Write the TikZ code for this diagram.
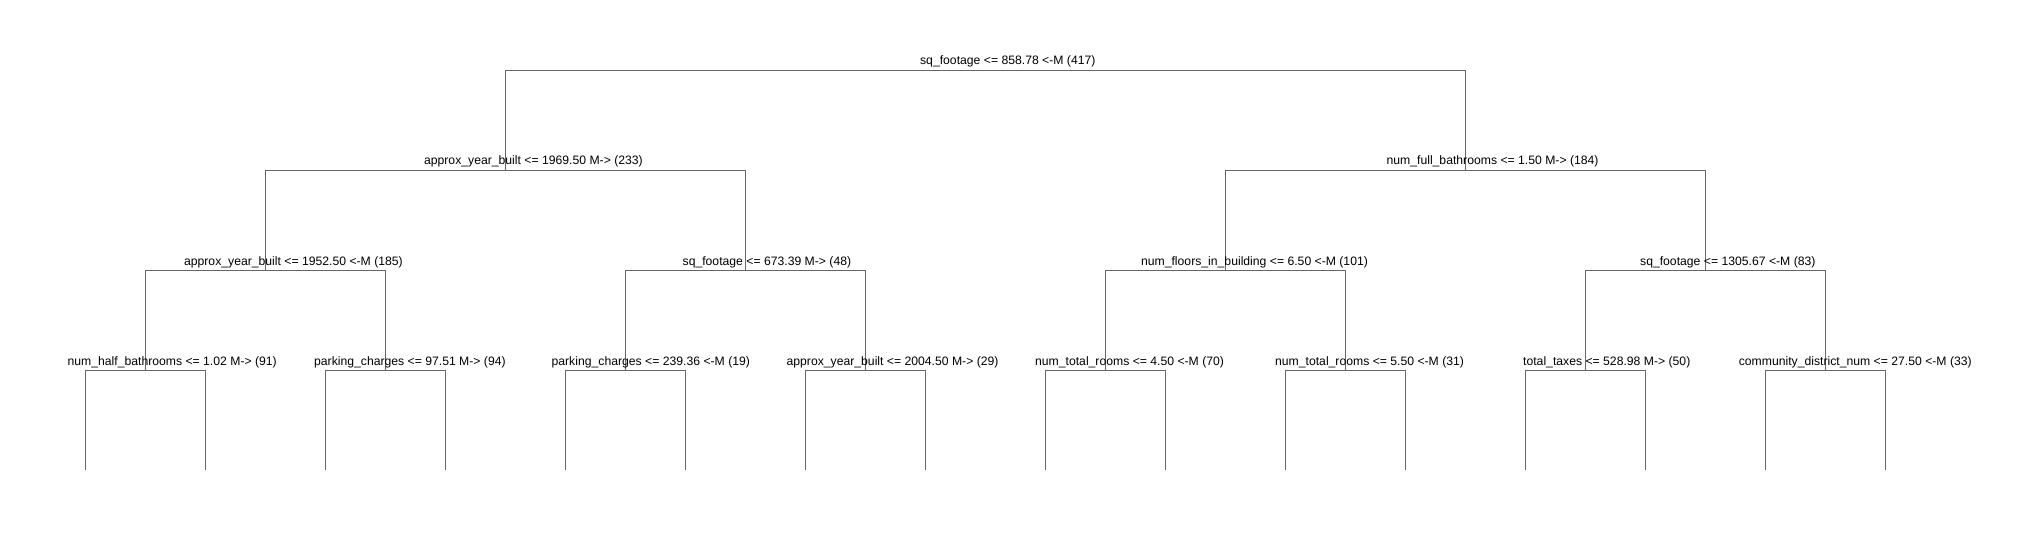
\documentclass[tikz,border=0pt]{standalone}
\usepackage{fontspec}
\newfontfamily\splitfont{Liberation Sans}
% label text starts at 37% of its width left of the split point
\newcommand{\splitlab}[1]{\setbox0\hbox{#1}\rlap{\hskip-0.37\wd0\box0}}

\begin{document}
\begin{tikzpicture}[
    x=1pt, y=-1pt,
    edge/.style={draw=black!60, line width=1pt},
    lab/.style={
        anchor=base, inner sep=0pt, yshift=5.5pt,
        font=\splitfont\fontsize{12.2}{14}\selectfont
    }
]
\useasboundingbox (0,0) rectangle (2041,540);

% --- split points ---
\coordinate (r) at (985,70.5);
\coordinate (a) at (505,170.5);
\coordinate (b) at (1465,170.5);
\coordinate (aa) at (265,270.5);
\coordinate (ab) at (745,270.5);
\coordinate (ba) at (1225,270.5);
\coordinate (bb) at (1705,270.5);
\foreach \n [count=\i from 0] in {aaa,aab,aba,abb,baa,bab,bba,bbb}
    \coordinate (\n) at (145+240*\i,370.5);
\foreach \i in {0,...,15}
    \coordinate (leaf\i) at (85+120*\i,470);

% --- branches ---
\draw[edge] (a) |- (r) -| (b);
\draw[edge] (aa) |- (a) -| (ab);
\draw[edge] (ba) |- (b) -| (bb);
\draw[edge] (aaa) |- (aa) -| (aab);
\draw[edge] (aba) |- (ab) -| (abb);
\draw[edge] (baa) |- (ba) -| (bab);
\draw[edge] (bba) |- (bb) -| (bbb);
\foreach \n [count=\i from 0] in {aaa,aab,aba,abb,baa,bab,bba,bbb} {
    \pgfmathtruncatemacro\lft{2*\i}
    \pgfmathtruncatemacro\rgt{2*\i+1}
    \draw[edge] (leaf\lft) |- (\n) -| (leaf\rgt);
}

% --- split labels ---
\node[lab] (rlab) at (r) {\splitlab{sq\_footage <= 858.78 <-M (417)}};
\node[lab] (alab) at (a) {\splitlab{approx\_year\_built <= 1969.50 M-> (233)}};
\node[lab] (blab) at (b) {\splitlab{num\_full\_bathrooms <= 1.50 M-> (184)}};
\node[lab] (aalab) at (aa) {\splitlab{approx\_year\_built <= 1952.50 <-M (185)}};
\node[lab] (ablab) at (ab) {\splitlab{sq\_footage <= 673.39 M-> (48)}};
\node[lab] (balab) at (ba) {\splitlab{num\_floors\_in\_building <= 6.50 <-M (101)}};
\node[lab] (bblab) at (bb) {\splitlab{sq\_footage <= 1305.67 <-M (83)}};
\node[lab] (aaalab) at (aaa) {\splitlab{num\_half\_bathrooms <= 1.02 M-> (91)}};
\node[lab] (aablab) at (aab) {\splitlab{parking\_charges <= 97.51 M-> (94)}};
\node[lab] (abalab) at (aba) {\splitlab{parking\_charges <= 239.36 <-M (19)}};
\node[lab] (abblab) at (abb) {\splitlab{approx\_year\_built <= 2004.50 M-> (29)}};
\node[lab] (baalab) at (baa) {\splitlab{num\_total\_rooms <= 4.50 <-M (70)}};
\node[lab] (bablab) at (bab) {\splitlab{num\_total\_rooms <= 5.50 <-M (31)}};
\node[lab] (bbalab) at (bba) {\splitlab{total\_taxes <= 528.98 M-> (50)}};
\node[lab] (bbblab) at (bbb) {\splitlab{community\_district\_num <= 27.50 <-M (33)}};

\end{tikzpicture}
\end{document}
